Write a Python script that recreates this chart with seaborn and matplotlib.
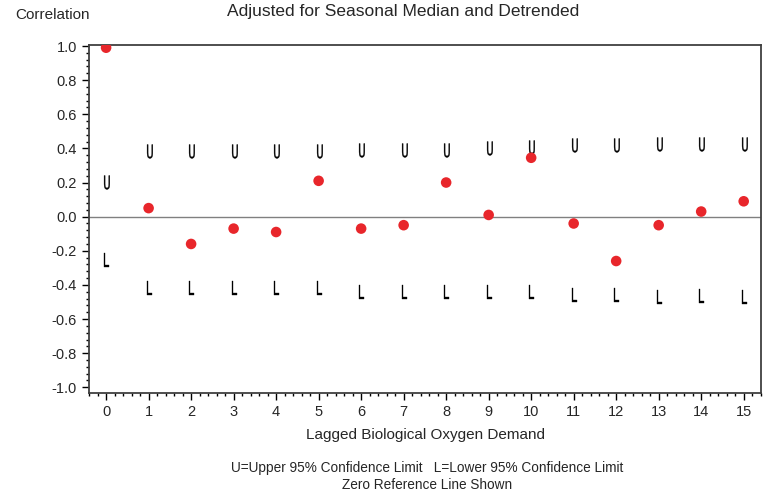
import numpy as np
import pandas as pd
import seaborn as sns
import matplotlib.pyplot as plt
from matplotlib.ticker import MultipleLocator
from matplotlib.textpath import TextPath
from matplotlib.font_manager import FontProperties
from matplotlib.path import Path

# Data
lags = list(range(16))
corr = [0.99, 0.05, -0.16, -0.07, -0.09, 0.21, -0.07, -0.05, 0.20, 0.01, 0.345,
        -0.04, -0.26, -0.05, 0.03, 0.09]
upper = [0.205, 0.386, 0.386, 0.386, 0.386, 0.386, 0.389, 0.389, 0.389, 0.403,
         0.406, 0.422, 0.420, 0.428, 0.428, 0.428]
lower = [-0.256, -0.42, -0.42, -0.42, -0.42, -0.42, -0.439, -0.439, -0.439, -0.44,
         -0.44, -0.458, -0.458, -0.468, -0.465, -0.468]
y_ticks = [-1.0, -0.8, -0.6, -0.4, -0.2, 0.0, 0.2, 0.4, 0.6, 0.8, 1.0]

sns.set_style("white")
plt.rcParams['font.family'] = ['Liberation Sans', 'DejaVu Sans']


def narrow_glyph(ch, squeeze):
    # tall thin letter marker, centred on the point
    tp = TextPath((0, 0), ch, size=10, prop=FontProperties(family='DejaVu Sans'))
    v = tp.vertices.copy()
    v -= (v.min(axis=0) + v.max(axis=0)) / 2
    v[:, 0] *= squeeze
    return Path(v, tp.codes)


u_marker = narrow_glyph('U', 0.55)
l_marker = narrow_glyph('L', 0.5)

df = pd.DataFrame({'lag': lags, 'corr': corr, 'upper': upper, 'lower': lower})

fig = plt.figure(figsize=(7.69, 4.97), dpi=100)
ax = fig.add_axes([0.1153, 0.2087, 0.8739, 0.7008])

ax.axhline(0, color='#808080', lw=1.0, zorder=1)
sns.scatterplot(data=df, x='lag', y='corr', color='#e8262b', s=58,
                edgecolor='none', ax=ax, zorder=3)
sns.scatterplot(data=df, x='lag', y='upper', marker=u_marker, color='black',
                s=100, edgecolor='black', linewidth=0.25, ax=ax, zorder=2)
sns.scatterplot(data=df, x='lag', y='lower', marker=l_marker, color='black',
                s=100, edgecolor='black', linewidth=0.25, ax=ax, zorder=2)

ax.set_xlim(-0.41, 15.4)
ax.set_ylim(-1.035, 1.006)
ax.set_xticks(lags)
ax.set_yticks(y_ticks)
ax.set_yticklabels([f'{v:.1f}' for v in y_ticks])
ax.xaxis.set_minor_locator(MultipleLocator(0.2))
ax.yaxis.set_minor_locator(MultipleLocator(0.04))
ax.tick_params(axis='both', which='major', direction='out', length=5, width=1,
               labelsize=10.5, color='black')
ax.tick_params(axis='both', which='minor', direction='out', length=2.5, width=1,
               color='black')
ax.tick_params(axis='x', which='both', bottom=True)
ax.tick_params(axis='y', which='both', left=True)
ax.set_xlabel('')
ax.set_ylabel('')

for side in ['left', 'right', 'top', 'bottom']:
    ax.spines[side].set_visible(True)
    ax.spines[side].set_color('#404040')
    ax.spines[side].set_linewidth(1.3)

fig.text(0.524, 0.976, 'Adjusted for Seasonal Median and Detrended',
         ha='center', va='center', fontsize=12.5)
fig.text(0.02, 0.969, 'Correlation', ha='left', va='center', fontsize=11)
fig.text(0.553, 0.124, 'Lagged Biological Oxygen Demand', ha='center',
         va='center', fontsize=11)
fig.text(0.555, 0.058, 'U=Upper 95% Confidence Limit   L=Lower 95% Confidence Limit',
         ha='center', va='center', fontsize=9.8)
fig.text(0.555, 0.024, 'Zero Reference Line Shown', ha='center', va='center',
         fontsize=9.8)

fig.savefig('out.png', dpi=100)
